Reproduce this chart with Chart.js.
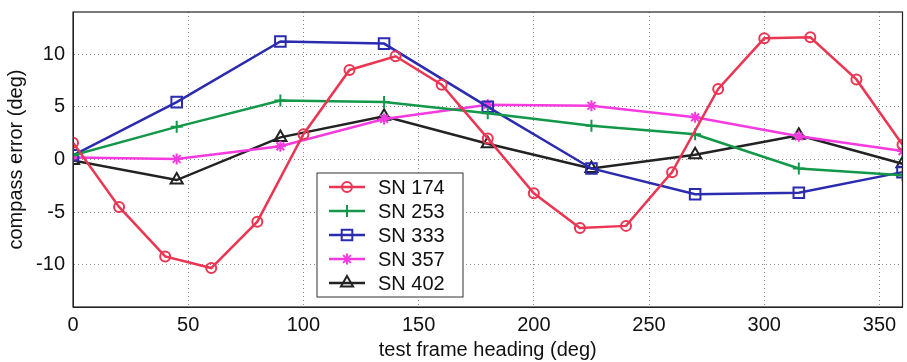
<!DOCTYPE html>
<html>
<head>
<meta charset="utf-8">
<script src="https://cdn.jsdelivr.net/npm/chart.js@4/dist/chart.umd.min.js"></script>
<style>
  html, body { margin: 0; padding: 0; background: #fff; overflow: hidden; }
  #wrap { width: 912px; height: 362px; }
</style>
</head>
<body>
<div id="wrap"><canvas id="myChart"></canvas></div>
<script>
// headings (deg)
let heading_20 = [0, 20, 40, 60, 80, 100, 120, 140, 160, 180, 200, 220, 240, 260, 280, 300, 320, 340, 360];
let heading_45 = [0, 45, 90, 135, 180, 225, 270, 315, 360];

// compass error (deg) per unit
let sn174 = [1.6, -4.5, -9.2, -10.3, -5.9, 2.4, 8.5, 9.8, 7.1, 2.0, -3.2, -6.5, -6.3, -1.2, 6.7, 11.5, 11.6, 7.6, 1.4];
let sn253 = [0.4, 3.1, 5.6, 5.45, 4.4, 3.2, 2.4, -0.85, -1.5];
let sn333 = [0.4, 5.45, 11.2, 11.0, 5.0, -0.85, -3.3, -3.15, -1.2];
let sn357 = [0.2, 0.05, 1.25, 3.85, 5.2, 5.1, 4.0, 2.2, 0.8];
let sn402 = [-0.1, -1.95, 2.1, 4.1, 1.5, -0.85, 0.45, 2.3, -0.4];

let labels = ['SN 174', 'SN 253', 'SN 333', 'SN 357', 'SN 402'];
let x_ticks = [0, 50, 100, 150, 200, 250, 300, 350];
let y_ticks = [-10, -5, 0, 5, 10];

function pts(xs, ys) {
    return xs.map((x, i) => ({ x: x, y: ys[i] }));
}

const FONT = '"Liberation Sans", Arial, Helvetica, sans-serif';

function series(label, data, color, style, radius) {
    return {
        label: label,
        data: data,
        borderColor: color,
        backgroundColor: color,
        pointBorderColor: color,
        pointBackgroundColor: 'rgba(0,0,0,0)',
        pointStyle: style,
        pointRadius: radius,
        pointBorderWidth: 2,
        borderWidth: 2.5,
        tension: 0,
        fill: false
    };
}

// box around the plot + legend inside the plot
const frameAndLegend = {
    id: 'frameAndLegend',
    afterDraw(chart) {
        const ctx = chart.ctx;
        const a = chart.chartArea;
        ctx.save();
        ctx.strokeStyle = '#222';
        ctx.lineWidth = 1.2;
        ctx.strokeRect(a.left, a.top, a.right - a.left, a.bottom - a.top);

        // legend
        const bx = 317, by = 173, bw = 146, bh = 124;
        ctx.fillStyle = '#fff';
        ctx.fillRect(bx, by, bw, bh);
        ctx.strokeStyle = '#333';
        ctx.lineWidth = 1;
        ctx.strokeRect(bx, by, bw, bh);
        ctx.font = '20px ' + FONT;
        ctx.textBaseline = 'middle';
        chart.data.datasets.forEach((ds, i) => {
            const y = by + 14 + i * 24;
            ctx.strokeStyle = ds.borderColor;
            ctx.lineWidth = 2.5;
            ctx.beginPath();
            ctx.moveTo(bx + 12, y);
            ctx.lineTo(bx + 48, y);
            ctx.stroke();
            ctx.lineWidth = 2;
            ctx.fillStyle = 'rgba(0,0,0,0)';
            Chart.helpers.drawPoint(ctx, {
                pointStyle: ds.pointStyle,
                radius: ds.pointRadius,
                rotation: 0,
                borderWidth: 2
            }, bx + 30, y);
            ctx.fillStyle = '#111';
            ctx.fillText(ds.label, bx + 61, y + 1);
        });
        ctx.restore();
    }
};

const ctx = document.getElementById('myChart').getContext('2d');
const myChart = new Chart(ctx, {
    type: 'line',
    data: {
        datasets: [
            series(labels[0], pts(heading_20, sn174), '#ea3652', 'circle', 5),
            series(labels[1], pts(heading_45, sn253), '#13984a', 'cross', 6),
            series(labels[2], pts(heading_45, sn333), '#2b2bb0', 'rect', 7.5),
            series(labels[3], pts(heading_45, sn357), '#f53be0', 'star', 5.5),
            series(labels[4], pts(heading_45, sn402), '#222222', 'triangle', 7)
        ]
    },
    options: {
        responsive: true,
        maintainAspectRatio: false,
        animation: false,
        layout: { padding: { top: 12, right: 3, left: 0, bottom: 0 } },
        plugins: {
            legend: { display: false },
            tooltip: { enabled: false }
        },
        scales: {
            x: {
                type: 'linear',
                min: 0,
                max: 360,
                afterBuildTicks: s => { s.ticks = x_ticks.map(v => ({ value: v })); },
                afterFit: s => { s.height = 55; s.paddingLeft = 0; s.paddingRight = 0; },
                grid: { color: '#8a8a8a', lineWidth: 1, tickLength: 0, drawTicks: false },
                border: { display: true, color: '#222', dash: [1, 3] },
                ticks: { color: '#111', font: { family: FONT, size: 20 }, padding: 6, maxRotation: 0 },
                title: {
                    display: true,
                    text: 'test frame heading (deg)',
                    color: '#111',
                    font: { family: FONT, size: 20 },
                    padding: { top: 0, bottom: 0 }
                }
            },
            y: {
                min: -14,
                max: 14,
                afterBuildTicks: s => { s.ticks = y_ticks.map(v => ({ value: v })); },
                afterFit: s => { s.width = 73; s.paddingTop = 0; s.paddingBottom = 0; },
                grid: { color: '#8a8a8a', lineWidth: 1, tickLength: 0, drawTicks: false },
                border: { display: true, color: '#222', dash: [1, 3] },
                ticks: { color: '#111', font: { family: FONT, size: 20 }, padding: 8 },
                title: {
                    display: true,
                    text: 'compass error (deg)',
                    color: '#111',
                    font: { family: FONT, size: 20 },
                    padding: { top: 4, bottom: 0 }
                }
            }
        }
    },
    plugins: [frameAndLegend]
});
</script>
</body>
</html>
